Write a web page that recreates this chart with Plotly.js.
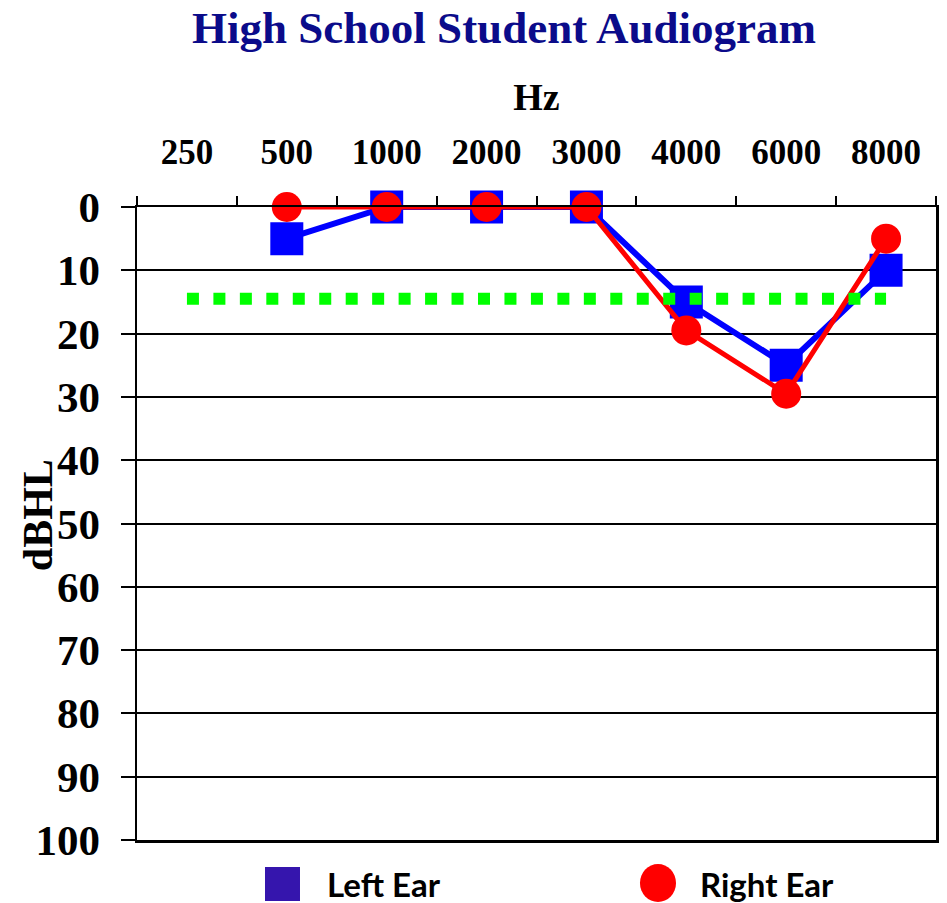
<!DOCTYPE html>
<html>
<head>
<meta charset="utf-8">
<script src="https://cdn.plot.ly/plotly-3.0.1.min.js"></script>
<style>html,body{margin:0;padding:0;background:#fff;}#chart{width:947px;height:903px;}</style>
</head>
<body>
<div id="chart"></div>
<script>
// Data
const frequencies = ["250", "500", "1000", "2000", "3000", "4000", "6000", "8000"];
const leftEarFreqs = ["500", "1000", "2000", "3000", "4000", "6000", "8000"];
const leftEar = [5, 0, 0, 0, 15, 25, 10];
const rightEarFreqs = ["500", "1000", "2000", "3000", "4000", "6000", "8000"];
const rightEar = [0, 0, 0, 0, 19.5, 29.5, 5];
const thresholdFreqs = ["250", "8000"];
const threshold = [14.5, 14.5];
const yTicks = [0, 10, 20, 30, 40, 50, 60, 70, 80, 90, 100];

const serif = "Liberation Serif, Times New Roman, serif";

const traces = [
  {
    x: leftEarFreqs, y: leftEar, name: "Left Ear", type: "scatter", mode: "lines+markers",
    line: {color: "#0000ff", width: 6},
    marker: {symbol: "square", size: 33, color: "#0000ff"},
    showlegend: false, cliponaxis: false
  },
  {
    x: rightEarFreqs, y: rightEar, name: "Right Ear", type: "scatter", mode: "lines+markers",
    line: {color: "#ff0000", width: 5},
    marker: {symbol: "circle", size: 30, color: "#ff0000"},
    showlegend: false, cliponaxis: false
  },
  {
    x: thresholdFreqs, y: threshold, name: "Threshold", type: "scatter", mode: "lines",
    line: {color: "#00ff00", width: 12, dash: "12px,14.46px"},
    showlegend: false, hoverinfo: "skip"
  }
];

const layout = {
  width: 947, height: 903,
  margin: {l: 137, r: 11, t: 207, b: 63, pad: 0},
  paper_bgcolor: "#ffffff", plot_bgcolor: "#ffffff",
  showlegend: false,
  title: {
    text: "<b>High School Student Audiogram</b>",
    font: {family: serif, size: 45, color: "#0b0b8a"},
    x: 504 / 947, xref: "container", xanchor: "center",
    y: 1 - 27 / 903, yref: "container", yanchor: "middle"
  },
  xaxis: {
    type: "category", categoryorder: "array", categoryarray: frequencies,
    tickvals: frequencies, ticktext: frequencies.map(f => "<b>" + f + "</b>"),
    side: "top", range: [-0.5, 7.5], tickson: "boundaries",
    ticks: "outside", ticklen: 9, tickwidth: 2, tickcolor: "#000",
    ticklabelstandoff: 27,
    showline: true, linecolor: "#000", linewidth: 2.5, mirror: true,
    showgrid: false, zeroline: false, fixedrange: true,
    tickfont: {family: serif, size: 35, color: "#000"},
    title: {text: "<b>Hz</b>", font: {family: serif, size: 38, color: "#000"}, standoff: 10}
  },
  yaxis: {
    range: [100, 0], tickvals: yTicks, ticktext: yTicks.map(v => "<b>" + v + "</b>"),
    ticks: "outside", ticklen: 14, tickwidth: 2, tickcolor: "#000",
    ticklabelstandoff: 12,
    showline: true, linecolor: "#000", linewidth: 2.5, mirror: true,
    showgrid: true, gridcolor: "#000", gridwidth: 2, zeroline: false, fixedrange: true,
    tickfont: {family: serif, size: 43, color: "#000"},
    title: {text: ""}
  },
  shapes: [
    // legend keys (paper coordinates, below the plot)
    {type: "rect", xref: "paper", yref: "paper", x0: 0.1602, x1: 0.2040, y0: -0.0964, y1: -0.0427,
     fillcolor: "#3515AD", line: {width: 0}},
    {type: "circle", xref: "paper", yref: "paper", x0: 0.6295, x1: 0.6746, y0: -0.0979, y1: -0.0379,
     fillcolor: "#ff0000", line: {width: 0}}
  ],
  annotations: [
    {text: "<b>dBHL</b>", xref: "paper", yref: "paper", x: -0.124, y: 0.513,
     textangle: -90, showarrow: false, xanchor: "center", yanchor: "middle",
     font: {family: serif, size: 42, color: "#000"}},
    {text: "<b>Left Ear</b>", xref: "paper", yref: "paper", x: 0.2353, y: -0.0695,
     showarrow: false, xanchor: "left", yanchor: "middle",
     font: {family: "Lato", size: 33, color: "#000"}},
    {text: "<b>Right Ear</b>", xref: "paper", yref: "paper", x: 0.7021, y: -0.0695,
     showarrow: false, xanchor: "left", yanchor: "middle",
     font: {family: "Lato", size: 33, color: "#000"}}
  ]
};

Plotly.newPlot("chart", traces, layout, {displayModeBar: false, staticPlot: true});
</script>
</body>
</html>
